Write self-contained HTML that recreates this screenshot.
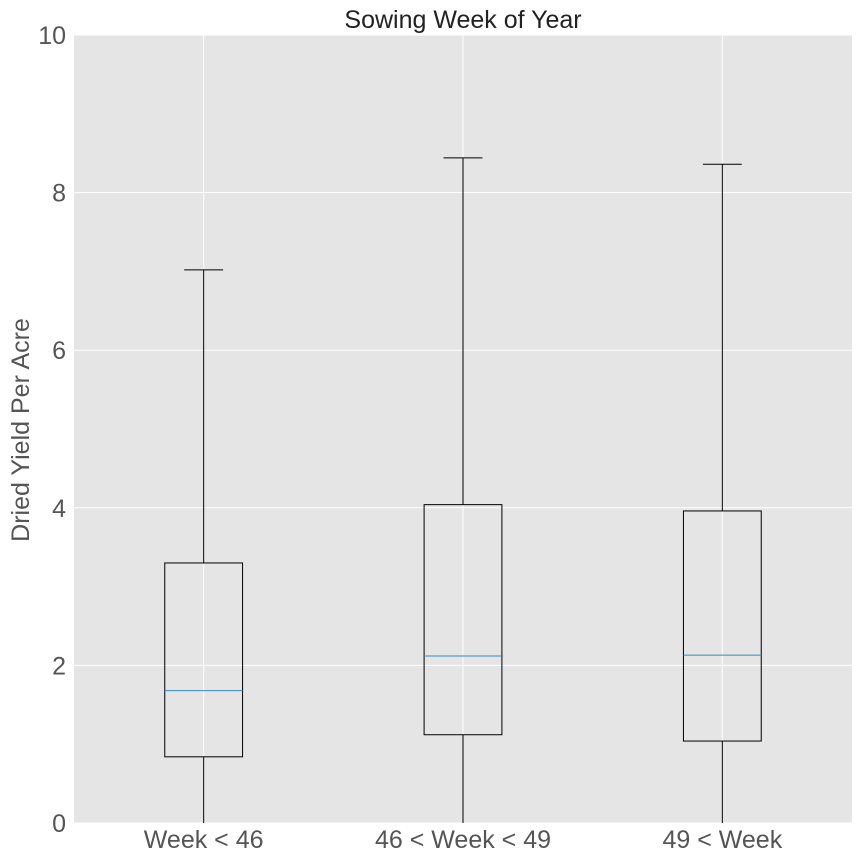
<!DOCTYPE html>
<html><head><meta charset="utf-8"><style>
body{margin:0;background:#fff;}
svg{display:block;font-family:"Liberation Sans",sans-serif;}
</style></head><body>
<svg id="chart" width="864" height="864"></svg>
<script>
const categories = ["Week < 46", "46 < Week < 49", "49 < Week"];
const whiskerLow = [0, 0, 0];
const q1Values = [0.84, 1.12, 1.04];
const medianValues = [1.68, 2.12, 2.13];
const q3Values = [3.30, 4.04, 3.96];
const whiskerHigh = [7.02, 8.44, 8.36];
const yTicks = [0, 2, 4, 6, 8, 10];

const NS = "http://www.w3.org/2000/svg";
const svg = document.getElementById("chart");
const L = 74, R = 852, T = 35, B = 823;
const x = v => L + (v - 0.5) / 3 * (R - L);
const y = v => B - v / 10 * (B - T);
function mk(tag, attrs, parent) {
  const e = document.createElementNS(NS, tag);
  for (const k in attrs) e.setAttribute(k, attrs[k]);
  (parent || svg).appendChild(e);
  return e;
}
const bg = mk("rect", {x: L, y: T, width: R - L, height: B - T, fill: "#e5e5e5"});


yTicks.forEach(t => {
  const g = mk("line", {x1: L, x2: R, y1: y(t), y2: y(t), stroke: "#fff", "stroke-width": 1});
  
  
  const lb = mk("text", {x: L - 8, y: y(t) + 9, "text-anchor": "end", "font-size": 25, fill: "#555"});
  lb.textContent = t;
  
  
});
categories.forEach((c, i) => {
  const g = mk("line", {x1: x(i + 1), x2: x(i + 1), y1: T, y2: B, stroke: "#fff", "stroke-width": 1});
  
  
});
categories.forEach((c, i) => {
  const cx = x(i + 1), hw = 0.15 * (R - L) / 3, cw = 0.075 * (R - L) / 3;
  const grp = mk("g", {});
  
  
  mk("line", {x1: cx, x2: cx, y1: y(whiskerLow[i]), y2: y(q1Values[i]), stroke: "#000"}, grp);
  mk("line", {x1: cx, x2: cx, y1: y(q3Values[i]), y2: y(whiskerHigh[i]), stroke: "#000"}, grp);
  mk("line", {x1: cx - cw, x2: cx + cw, y1: y(whiskerHigh[i]), y2: y(whiskerHigh[i]), stroke: "#000"}, grp);
  if (whiskerLow[i] > 0) mk("line", {x1: cx - cw, x2: cx + cw, y1: y(whiskerLow[i]), y2: y(whiskerLow[i]), stroke: "#000"}, grp);
  mk("rect", {x: cx - hw, y: y(q3Values[i]), width: 2 * hw, height: y(q1Values[i]) - y(q3Values[i]), fill: "none", stroke: "#000"}, grp);
  const md = mk("line", {x1: cx - hw, x2: cx + hw, y1: y(medianValues[i]), y2: y(medianValues[i]), stroke: "#348ABD"}, grp);
  
  
  const lb = mk("text", {x: cx, y: 848, "text-anchor": "middle", "font-size": 25, fill: "#555"});
  lb.textContent = c;
  
  
});
const title = mk("text", {x: 463, y: 28, "text-anchor": "middle", "font-size": 25, fill: "#222"});
title.textContent = "Sowing Week of Year";


const yt = mk("text", {x: 0, y: 0, "text-anchor": "middle", "font-size": 25, fill: "#555", transform: "translate(29,430) rotate(-90)"});
yt.textContent = "Dried Yield Per Acre";


</script>
</body></html>
